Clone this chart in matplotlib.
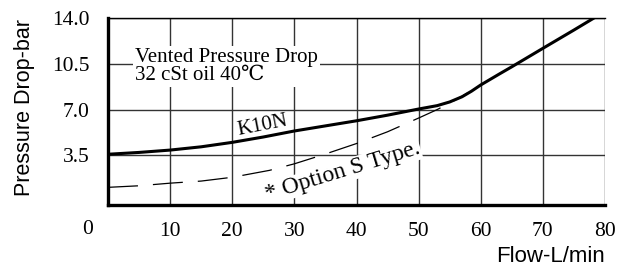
import matplotlib
matplotlib.use("Agg")
import matplotlib.pyplot as plt

# ── Data ────────────────────────────────────────────────────────────────────
flow_k10n = [0, 5, 10, 15, 20, 25, 30, 35, 40, 45, 50, 53, 55, 57, 58.5, 60, 63, 65, 70, 75, 78.4]
dp_k10n = [3.58, 3.72, 3.9, 4.15, 4.49, 4.9, 5.36, 5.75, 6.14, 6.57, 7.04, 7.3, 7.58,
           7.98, 8.4, 8.88, 9.72, 10.27, 11.68, 13.08, 14.05]

flow_opt_s = [0, 5, 10, 15, 20, 26, 30, 35, 40, 45, 50, 53, 56, 58]
dp_opt_s = [1.05, 1.17, 1.37, 1.53, 1.82, 2.35, 2.85, 3.6, 4.4, 5.3, 6.35, 7.0, 7.75, 8.3]

x_ticks = [10, 20, 30, 40, 50, 60, 70, 80]
y_ticks = [3.5, 7.0, 10.5, 14.0]
y_tick_labels = ["3.5", "7.0", "10.5", "14.0"]

SERIF = ["Liberation Serif", "DejaVu Serif"]
SANS = ["Liberation Sans", "DejaVu Sans"]

fig = plt.figure(figsize=(6.28, 2.71), dpi=100)
ax = fig.add_axes([108 / 628, 66 / 271, 497 / 628, 187 / 271])

ax.plot(flow_k10n, dp_k10n, color="black", lw=2.2, zorder=4)
ax.plot(flow_opt_s, dp_opt_s, color="black", lw=0.9, dashes=(24, 12), zorder=3)

ax.set_xlim(0, 80)
ax.set_ylim(-0.3, 14)
ax.set_xticks(x_ticks)
ax.set_xticklabels([str(t) for t in x_ticks], family=SERIF, fontsize=15.5)
ax.set_yticks(y_ticks)
ax.set_yticklabels(y_tick_labels, family=SERIF, fontsize=15.5)
ax.tick_params(length=0)
ax.tick_params(axis="y", pad=13)
ax.tick_params(axis="x", pad=12)
ax.grid(True, color="#333333", lw=1.0)
ax.set_axisbelow(True)

for side in ("left", "bottom"):
    ax.spines[side].set_linewidth(2.4)
ax.spines["top"].set_linewidth(1.0)
ax.spines["right"].set_visible(False)

# corner zero label, sits left of the axis like in the original
fig.text(88 / 628, 1 - 229 / 271, "0", family=SERIF, fontsize=15.5,
         ha="center", va="center")

ax.text(4.3, 10.3, "Vented Pressure Drop\n32 cSt oil 40\u2103", family=SERIF,
        fontsize=15, ha="left", va="center", linespacing=0.95, zorder=2,
        bbox=dict(facecolor="white", edgecolor="none", pad=1.5))
ax.text(24.8, 5.75, "K10N", family=SERIF, fontsize=15, rotation=11,
        ha="center", va="center", zorder=5)
# white box hides grid lines but stays under the spines
ax.text(37.8, 2.25, "* Option S Type.", family=SERIF, fontsize=17,
        rotation=17, ha="center", va="center", zorder=2,
        bbox=dict(facecolor="white", edgecolor="none", pad=0.5))

fig.text(25 / 628, 1 - 108 / 271, "Pressure Drop-bar", family=SANS,
         fontsize=15.5, rotation=90, ha="center", va="center")
fig.text(605 / 628, 1 - 256 / 271, "Flow-L/min", family=SANS,
         fontsize=16, ha="right", va="center")

fig.savefig("out.png", dpi=100)
